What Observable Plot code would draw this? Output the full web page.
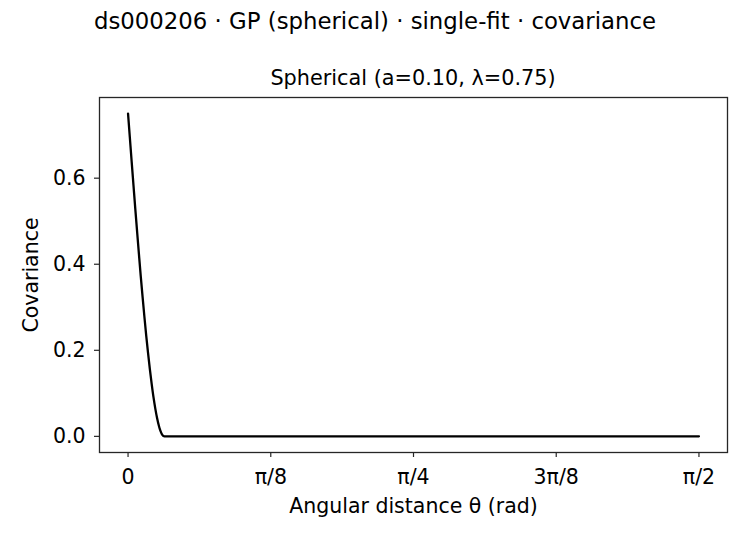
<!DOCTYPE html>
<html>
<head>
<meta charset="utf-8">
<script src="https://cdn.jsdelivr.net/npm/d3@7"></script>
<script src="https://cdn.jsdelivr.net/npm/@observablehq/plot@0.6"></script>
<style>
  html, body { margin: 0; padding: 0; background: #fff; }
  #wrap { position: relative; width: 750px; height: 540px; font-family: "DejaVu Sans", sans-serif; }
  .t { position: absolute; white-space: nowrap; color: #000; transform: translate(-50%, -50%); line-height: 1; }
</style>
</head>
<body>
<div id="wrap">
  <div class="t" id="title" style="left:375px; top:21px; font-size:22.8px;">ds000206 · GP (spherical) · single-fit · covariance</div>
  <div class="t" id="subtitle" style="left:413px; top:78px; font-size:20.8px;">Spherical (a=0.10, λ=0.75)</div>
</div>
<script>
const theta = [0, 0.005, 0.01, 0.015, 0.02, 0.025, 0.03, 0.035, 0.04, 0.045, 0.05, 0.055, 0.06, 0.065, 0.07, 0.075, 0.08, 0.085, 0.0875, 0.09, 0.0925, 0.095, 0.0975, 0.1, 0.3, 0.6, 0.9, 1.2, 1.5707963];
// Covariance values at those distances
const covariance = [0.75, 0.694, 0.638, 0.583, 0.528, 0.475, 0.423, 0.372, 0.324, 0.278, 0.234, 0.194, 0.156, 0.122, 0.091, 0.0645, 0.042, 0.024, 0.0168, 0.011, 0.0062, 0.0028, 0.0007, 0, 0, 0, 0, 0, 0];
// x tick positions and labels
const xTickValues = [0, Math.PI / 8, Math.PI / 4, 3 * Math.PI / 8, Math.PI / 2];
const xTickLabels = ["0", "π/8", "π/4", "3π/8", "π/2"];
const yTickValues = [0, 0.2, 0.4, 0.6];

const data = theta.map((t, i) => ({x: t, y: covariance[i]}));
const xMax = Math.PI / 2;
const xPad = xMax * 0.05;
const yPad = 0.75 * 0.05;

const chart = Plot.plot({
  width: 750,
  height: 540,
  marginLeft: 99,
  marginRight: 23,
  marginTop: 97,
  marginBottom: 88,
  style: {fontFamily: "'DejaVu Sans', sans-serif", fontSize: "20.5px", color: "#000", background: "transparent"},
  x: {domain: [-xPad, xMax + xPad]},
  y: {domain: [-yPad, 0.75 + yPad]},
  marks: [
    Plot.axisX({
      ticks: xTickValues,
      tickFormat: (d, i) => xTickLabels[i],
      tickSize: 5,
      tickPadding: 12,
      stroke: "#262626",
      strokeWidth: 1.2,
      fontSize: 20.5,
      label: "Angular distance θ (rad)",
      labelAnchor: "center",
      labelArrow: "none",
      labelOffset: 60
    }),
    Plot.axisY({
      ticks: yTickValues,
      tickFormat: d3.format(".1f"),
      tickSize: 5,
      tickPadding: 9,
      stroke: "#262626",
      strokeWidth: 1.2,
      fontSize: 20.5,
      label: "Covariance",
      labelAnchor: "center",
      labelArrow: "none",
      labelOffset: 76
    }),
    Plot.line(data, {x: "x", y: "y", stroke: "#000", strokeWidth: 2.3, curve: "monotone-x"}),
    Plot.frame({stroke: "#262626", strokeWidth: 1.3})
  ]
});
chart.style.position = "absolute";
chart.style.left = "0px";
chart.style.top = "0px";
document.getElementById("wrap").prepend(chart);
</script>
</body>
</html>
